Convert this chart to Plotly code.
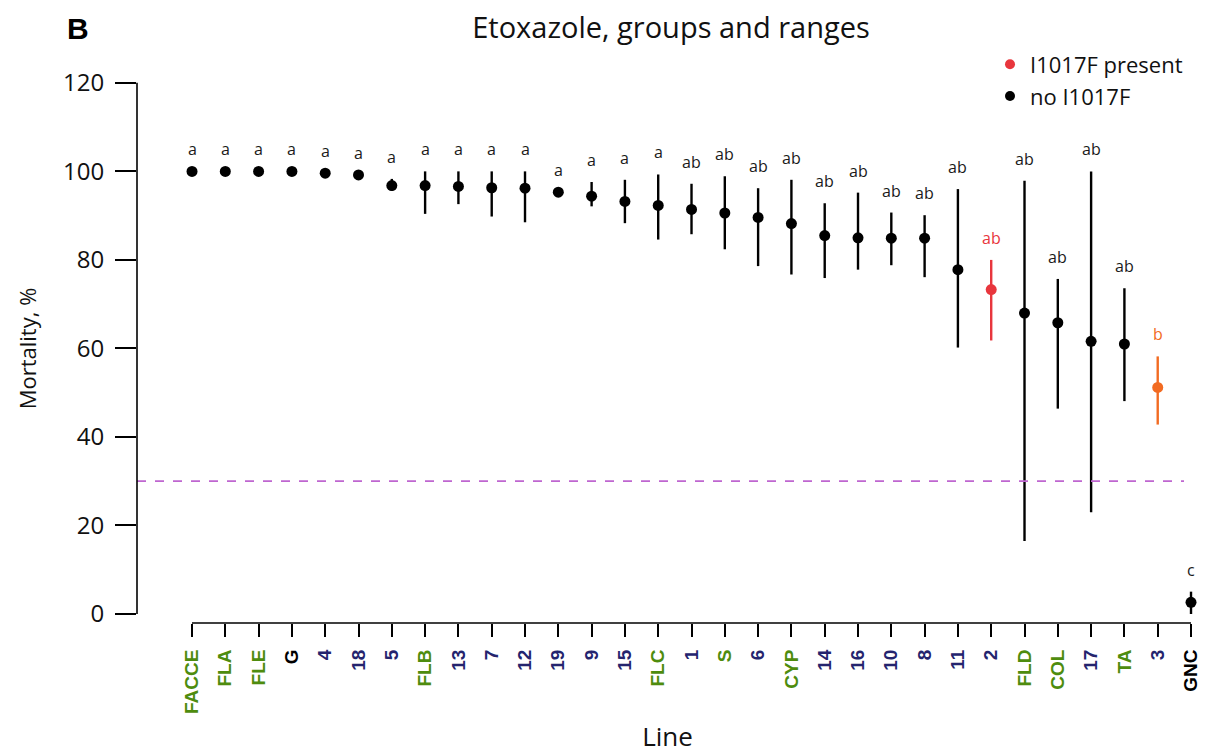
import plotly.graph_objects as go

# ---------------- data ----------------
lines = ["FACCE", "FLA", "FLE", "G", "4", "18", "5", "FLB", "13", "7", "12", "19", "9", "15",
         "FLC", "1", "S", "6", "CYP", "14", "16", "10", "8", "11", "2", "FLD", "COL", "17",
         "TA", "3", "GNC"]
mortality = [100, 100, 100, 100, 99.6, 99.2, 96.8, 96.8, 96.6, 96.3, 96.2, 95.3, 94.4, 93.2,
             92.3, 91.4, 90.6, 89.6, 88.2, 85.5, 85.0, 84.9, 84.9, 77.8, 73.3, 68.0, 65.8, 61.6,
             61.0, 51.2, 2.65]
upper = [100, 100, 100, 100, 99.6, 99.2, 98.3, 100, 100, 100, 100, 95.3, 97.6, 98.1,
         99.3, 97.2, 98.9, 96.2, 98.1, 92.8, 95.2, 90.7, 90.1, 96.0, 80.0, 97.9, 75.7, 100,
         73.6, 58.2, 5.05]
lower = [100, 100, 100, 100, 99.6, 99.2, 95.6, 90.4, 92.6, 89.8, 88.5, 95.3, 92.1, 88.3,
         84.6, 85.8, 82.4, 78.6, 76.7, 75.9, 77.8, 78.8, 76.1, 60.2, 61.8, 16.5, 46.4, 23.0,
         48.1, 42.8, 0.0]
groups = ["a", "a", "a", "a", "a", "a", "a", "a", "a", "a", "a", "a", "a", "a",
          "a", "ab", "ab", "ab", "ab", "ab", "ab", "ab", "ab", "ab", "ab", "ab", "ab", "ab",
          "ab", "b", "c"]
# genotype status: "present" (I1017F), "other" (orange), "none"
status = ["none"] * 24 + ["present"] + ["none"] * 4 + ["other", "none"]
# tick label class: green = field/strain lines, navy = numbered, black = references
label_class = ["green", "green", "green", "black", "navy", "navy", "navy", "green", "navy", "navy",
               "navy", "navy", "navy", "navy", "green", "navy", "green", "navy", "green", "navy",
               "navy", "navy", "navy", "navy", "navy", "green", "green", "navy", "green", "navy",
               "black"]
threshold = 30
y_ticks = [0, 20, 40, 60, 80, 100, 120]

# ---------------- styles ----------------
OFF = 8                      # default page margin of the html body
W, H = 1208 - OFF, 754 - OFF
status_color = {"none": "#000000", "present": "#e8363d", "other": "#f26b22"}
label_color = {"green": "#4e8c0e", "navy": "#24246e", "black": "#000000"}
TXT = "Open Sans"

# plot area geometry (pixels in the screenshot)
L, R = 137 - OFF, 1198 - OFF
T, B = 73.5 - OFF, 623 - OFF
x_range = [-1.652, 30.21]
y_range = [-2.03, 122]


def px_to_paper_x(px):
    return (px - OFF - L) / (R - L)


def px_to_paper_y(py):
    return (B - (py - OFF)) / (B - T)


x_idx = list(range(len(lines)))

fig = go.Figure()

for st in ["none", "present", "other"]:
    idx = [i for i in x_idx if status[i] == st]
    fig.add_trace(go.Scatter(
        x=idx,
        y=[mortality[i] for i in idx],
        mode="markers",
        marker=dict(color=status_color[st], size=11, line=dict(width=0)),
        error_y=dict(
            type="data", symmetric=False,
            array=[upper[i] - mortality[i] for i in idx],
            arrayminus=[mortality[i] - lower[i] for i in idx],
            color=status_color[st], thickness=2.4, width=0,
        ),
        cliponaxis=False,
        showlegend=False,
        hoverinfo="x+y",
    ))

# legend entries
fig.add_trace(go.Scatter(x=[None], y=[None], mode="markers", name="I1017F present",
                         marker=dict(color=status_color["present"], size=10)))
fig.add_trace(go.Scatter(x=[None], y=[None], mode="markers", name="no I1017F",
                         marker=dict(color=status_color["none"], size=10)))

# group letters
for i in x_idx:
    col = "#1a1a1a" if status[i] == "none" else status_color[status[i]]
    fig.add_annotation(x=i, y=upper[i], text=groups[i], showarrow=False,
                       yanchor="bottom", yshift=9,
                       font=dict(family=TXT, size=16, color=col))

# threshold line
fig.add_shape(type="line", xref="paper", x0=0, x1=px_to_paper_x(1184),
              yref="y", y0=threshold, y1=threshold,
              line=dict(color="#bf66d0", width=1.8, dash="dash"))
# axis lines (bracket style)
fig.add_shape(type="line", xref="paper", x0=0, x1=0, yref="y", y0=0, y1=120,
              line=dict(color="#000000", width=1.6))
fig.add_shape(type="line", xref="x", x0=0, x1=len(lines) - 1, yref="paper", y0=0, y1=0,
              line=dict(color="#000000", width=1.6))

# panel letter
fig.add_annotation(xref="paper", yref="paper", x=px_to_paper_x(78), y=px_to_paper_y(28),
                   text="<b>B</b>", showarrow=False, xanchor="center", yanchor="middle",
                   font=dict(family="Liberation Sans", size=30, color="#000000"))

ticktext = [f"<b><span style='color:{label_color[cls]}'>{name}</span></b>"
            for name, cls in zip(lines, label_class)]

fig.update_layout(
    width=W, height=H,
    margin=dict(l=L, r=W - R, t=T, b=H - B, autoexpand=False),
    paper_bgcolor="white", plot_bgcolor="white",
    title=dict(text="Etoxazole, groups and ranges", x=(671 - OFF) / W, y=1 - (28 - OFF) / H,
               xanchor="center", yanchor="middle", xref="container", yref="container",
               font=dict(family=TXT, size=29, color="#111111")),
    legend=dict(x=px_to_paper_x(990), y=px_to_paper_y(43), xanchor="left", yanchor="top",
                font=dict(family=TXT, size=22, color="#111111"),
                bgcolor="rgba(0,0,0,0)", itemwidth=30, tracegroupgap=0,
                traceorder="normal"),
    xaxis=dict(
        range=x_range, tickmode="array", tickvals=x_idx, ticktext=ticktext,
        tickangle=-90, ticks="outside", ticklen=13, tickwidth=1.6, tickcolor="#000000",
        tickfont=dict(family="Liberation Sans", size=19), ticklabelstandoff=5,
        showline=False, showgrid=False, zeroline=False,
        title=dict(text="Line", font=dict(family=TXT, size=26, color="#111111"), standoff=15),
    ),
    yaxis=dict(
        range=y_range, tickmode="array", tickvals=y_ticks,
        ticks="outside", ticklen=21, tickwidth=1.6, tickcolor="#000000",
        tickfont=dict(family=TXT, size=24, color="#111111"), ticklabelstandoff=6,
        showline=False, showgrid=False, zeroline=False,
        title=dict(text="Mortality, %", font=dict(family=TXT, size=22, color="#111111"),
                   standoff=20),
    ),
)

fig.write_html("out.html")
